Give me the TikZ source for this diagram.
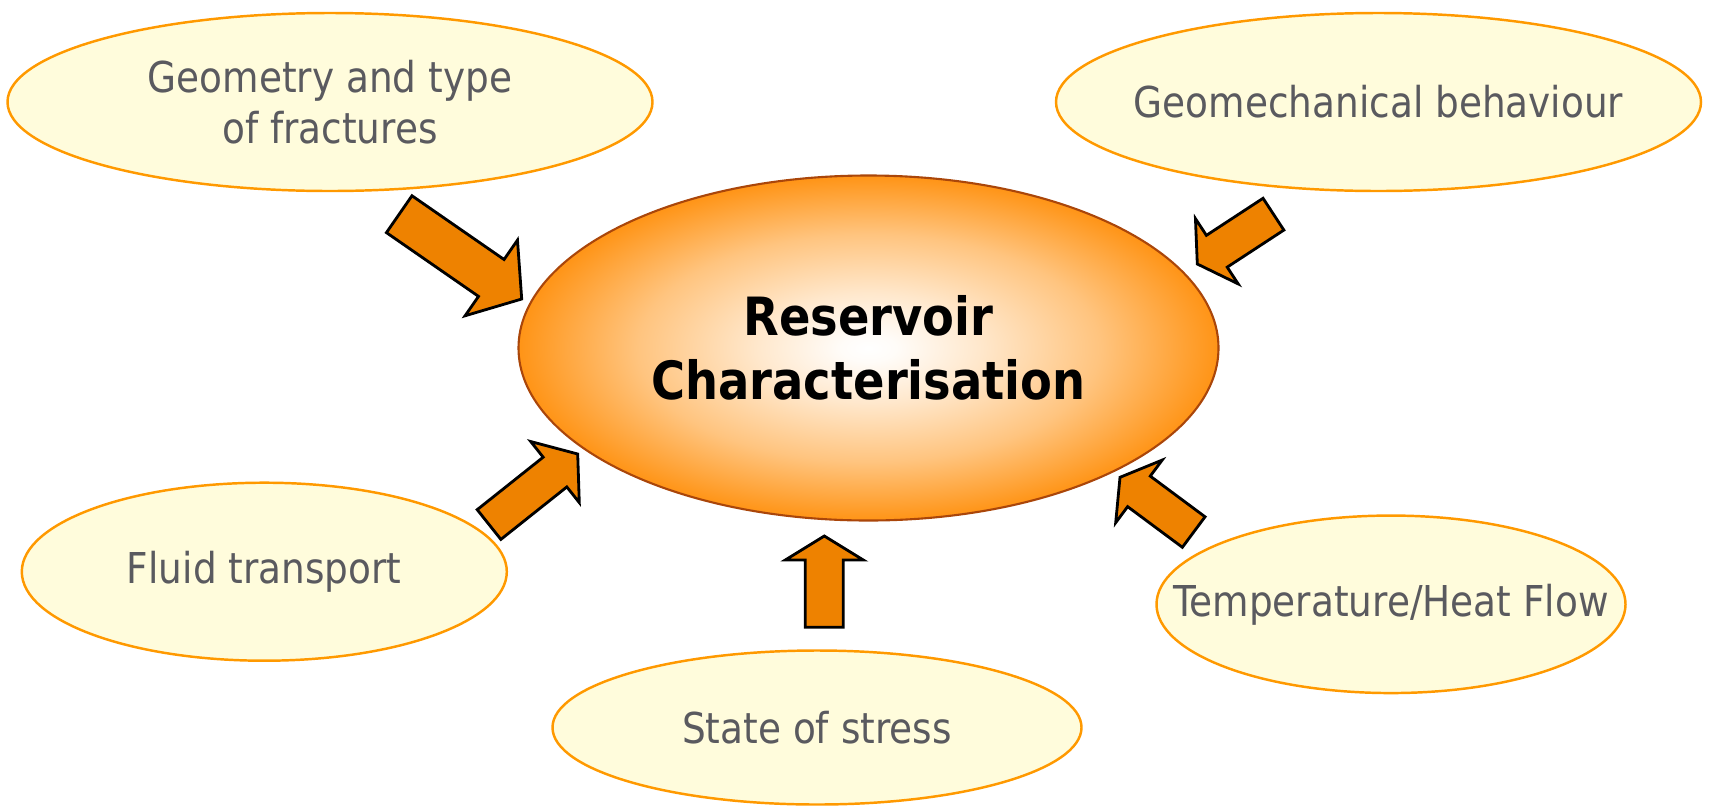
\documentclass[tikz,border=0pt]{standalone}
\usepackage{fontspec}
\setmainfont{DejaVu Sans}[FakeStretch=0.88]
\usetikzlibrary{shapes.geometric}

\definecolor{ellfill}{RGB}{255,252,220}
\definecolor{ellline}{RGB}{255,153,0}
\definecolor{txtgray}{RGB}{90,90,95}
\definecolor{arrfill}{RGB}{238,130,0}
\definecolor{coreorange}{RGB}{255,148,22}
\definecolor{coreline}{RGB}{170,70,10}

\pgfdeclareradialshading{coreshade}{\pgfpoint{0bp}{0bp}}{%
  color(0bp)=(white); color(2bp)=(coreorange!3!white);
  color(8bp)=(coreorange!22!white); color(16.5bp)=(coreorange!55!white);
  color(25bp)=(coreorange); color(50bp)=(coreorange)}

% block arrow: [width scale]{tip}{angle}{length}{head length}
\newcommand{\blockarrow}[5][1]{%
  \draw[blockarrow, shift={(#2)}, rotate=#3, yscale=#1]
    (0,0) -- (-#5,0.39) -- (-#5,0.19) -- (-#4,0.19) -- (-#4,-0.19)
    -- (-#5,-0.19) -- (-#5,-0.39) -- cycle;}

\begin{document}
\begin{tikzpicture}[
  topic/.style={ellipse, draw=ellline, fill=ellfill, line width=0.7pt, inner sep=0pt},
  topictext/.style={align=center, text=txtgray, font=\fontsize{12.1}{14.5}\selectfont},
  core/.style={ellipse, draw=coreline, shade, shading=coreshade, line width=0.6pt,
    inner sep=0pt, align=center, font=\fontsize{15}{18.2}\selectfont\bfseries},
  blockarrow/.style={draw=black, fill=arrfill, line width=0.8pt, line join=miter}
]
\useasboundingbox (0,0) rectangle (17.09,8.07);

% topics
\node[topic, minimum width=6.45cm, minimum height=1.78cm] (geom) at (3.30,7.05) {};
\node[topic, minimum width=6.45cm, minimum height=1.78cm] (mech) at (13.785,7.05) {};
\node[topic, minimum width=4.85cm, minimum height=1.78cm] (fluid) at (2.643,2.353) {};
\node[topic, minimum width=5.29cm, minimum height=1.54cm] (stress) at (8.17,0.795) {};
\node[topic, minimum width=4.69cm, minimum height=1.775cm] (temp) at (13.91,2.027) {};

\node[topictext] (geomtext) at (geom) {Geometry and type\\of fractures};
\node[topictext] (mechtext) at (mech) {Geomechanical behaviour};
\node[topictext] (fluidtext) at (fluid) {Fluid transport};
\node[topictext] (stresstext) at (stress) {State of stress};
\node[topictext] (temptext) at (temp) {Temperature/Heat Flow};

% centre
\node[core, minimum width=7.0cm, minimum height=3.45cm] (res) at (8.685,4.59) {Reservoir\\Characterisation};

% arrows
\coordinate (tipGeo) at (5.217,5.08);
\coordinate (tipMech) at (11.973,5.43);
\coordinate (tipStress) at (8.243,2.71);
\coordinate (tipFluid) at (5.777,3.53);
\coordinate (tipTemp) at (11.20,3.297);

\blockarrow[1.18]{tipGeo}{-34.7}{1.49}{0.37}
\blockarrow{tipMech}{213.2}{0.91}{0.233}
\blockarrow{tipStress}{90}{0.913}{0.24}
\blockarrow{tipFluid}{38.5}{1.133}{0.29}
\blockarrow{tipTemp}{143.4}{0.918}{0.236}
\end{tikzpicture}
\end{document}
